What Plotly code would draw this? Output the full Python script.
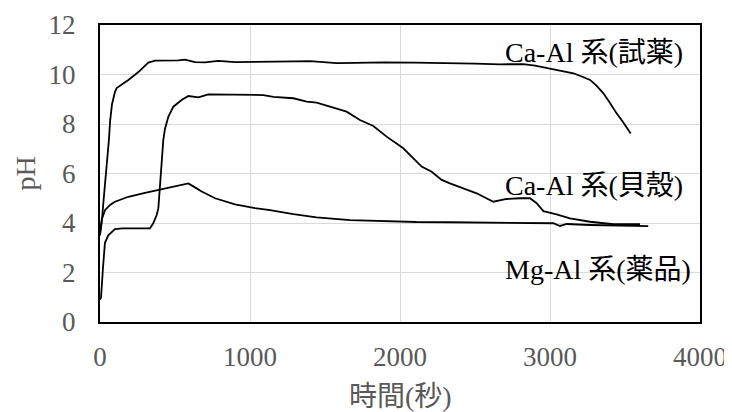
import plotly.graph_objects as go

# Ca-Al 系(試薬)
t_reagent = [0, 5, 11, 25, 40, 51, 60, 67, 80, 100, 111, 150, 189, 256, 322, 367, 450, 522, 567, 633,
             700, 789, 900, 1000, 1100, 1200, 1300, 1400, 1500, 1578, 1700, 1889, 2100, 2333, 2500,
             2667, 2822, 2900, 3000, 3080, 3156, 3220, 3267, 3310, 3356, 3400, 3444, 3490, 3538]
ph_reagent = [3.5, 3.7, 4.0, 5.0, 6.0, 6.55, 7.4, 8.1, 8.8, 9.3, 9.45, 9.62, 9.78, 10.1, 10.48, 10.56,
              10.55, 10.57, 10.6, 10.5, 10.49, 10.55, 10.5, 10.5, 10.51, 10.53, 10.53, 10.54, 10.5,
              10.46, 10.47, 10.49, 10.48, 10.47, 10.44, 10.41, 10.42, 10.36, 10.25, 10.16, 10.05,
              9.9, 9.78, 9.55, 9.24, 8.85, 8.43, 8.05, 7.62]

# Ca-Al 系(貝殼)
t_shell = [0, 7, 20, 33, 55, 100, 150, 200, 250, 300, 333, 355, 378, 389, 400, 411, 422, 433, 456, 489,
           544, 589, 620, 656, 722, 800, 900, 1000, 1089, 1156, 1289, 1378, 1444, 1533, 1644, 1733,
           1822, 1911, 2022, 2089, 2144, 2211, 2278, 2333, 2422, 2511, 2622, 2711, 2800, 2867, 2911,
           2956, 3044, 3133, 3267, 3422, 3600]
ph_shell = [0.9, 1.0, 2.2, 3.2, 3.5, 3.75, 3.78, 3.78, 3.78, 3.78, 3.78, 3.99, 4.32, 4.6, 5.6, 6.8,
            7.35, 7.8, 8.3, 8.7, 8.97, 9.13, 9.1, 9.08, 9.2, 9.2, 9.18, 9.17, 9.17, 9.1, 9.04, 8.9,
            8.86, 8.7, 8.5, 8.16, 7.92, 7.49, 7.02, 6.61, 6.28, 6.07, 5.74, 5.6, 5.4, 5.2, 4.86,
            4.97, 5.0, 5.0, 4.8, 4.48, 4.35, 4.19, 4.05, 3.95, 3.95]

# Mg-Al 系(薬品)
t_mg = [0, 11, 33, 67, 100, 189, 300, 411, 500, 589, 630, 678, 767, 900, 1033, 1133, 1289, 1444,
        1667, 1889, 2111, 2333, 2600, 2800, 3022, 3067, 3111, 3267, 3450, 3655]
ph_mg = [3.6, 4.12, 4.52, 4.73, 4.86, 5.06, 5.22, 5.36, 5.48, 5.6, 5.45, 5.27, 5.0, 4.75, 4.6,
         4.52, 4.36, 4.23, 4.12, 4.07, 4.04, 4.03, 4.01, 4.0, 3.99, 3.88, 3.96, 3.92, 3.89, 3.87]

series = [
    ("Ca-Al 系(試薬)", t_reagent, ph_reagent, 3900, 10.9),
    ("Ca-Al 系(貝殼)", t_shell, ph_shell, 3900, 5.53),
    ("Mg-Al 系(薬品)", t_mg, ph_mg, 3953, 2.14),
]

x_ticks = [0, 1000, 2000, 3000, 4000]
y_ticks = [0, 2, 4, 6, 8, 10, 12]
x_title = "時間(秒)"
y_title = "pH"

SERIF = "Liberation Serif, 'Noto Sans CJK JP', serif"

fig = go.Figure()
for name, t, ph, lx, ly in series:
    fig.add_trace(go.Scatter(x=t, y=ph, mode="lines", name=name,
                             line=dict(color="black", width=1.8)))
    fig.add_annotation(x=lx, y=ly, xref="x", yref="y", text=name, showarrow=False,
                       xanchor="right", yanchor="middle",
                       font=dict(family=SERIF, size=28, color="black"))

# axis titles
fig.add_annotation(x=0.5, y=0, xref="paper", yref="paper", text=x_title, showarrow=False,
                   xanchor="center", yanchor="middle", yshift=-74,
                   font=dict(family=SERIF, size=28, color="#595959"))
fig.add_annotation(x=0, y=0.5, xref="paper", yref="paper", text=y_title, showarrow=False,
                   textangle=-90, xanchor="center", yanchor="middle", xshift=-75,
                   font=dict(family=SERIF, size=28, color="#595959"))

axis_common = dict(showgrid=True, gridcolor="#d9d9d9", gridwidth=1.3, showline=True,
                   linecolor="black", linewidth=2, mirror=True, zeroline=False, ticks="",
                   automargin=False,
                   tickfont=dict(family=SERIF, size=27, color="#595959"))

# page body adds an 8px margin, so the figure is sized to fill the 732x412 window
fig.update_layout(
    width=724, height=404,
    margin=dict(l=92, r=32, t=17, b=90),
    paper_bgcolor="white", plot_bgcolor="white",
    showlegend=False,
    xaxis=dict(range=[0, 4000], tickvals=x_ticks, ticklabelstandoff=10, **axis_common),
    yaxis=dict(range=[0, 12], tickvals=y_ticks, ticklabelstandoff=17, **axis_common),
)

fig.write_html("out.html")
